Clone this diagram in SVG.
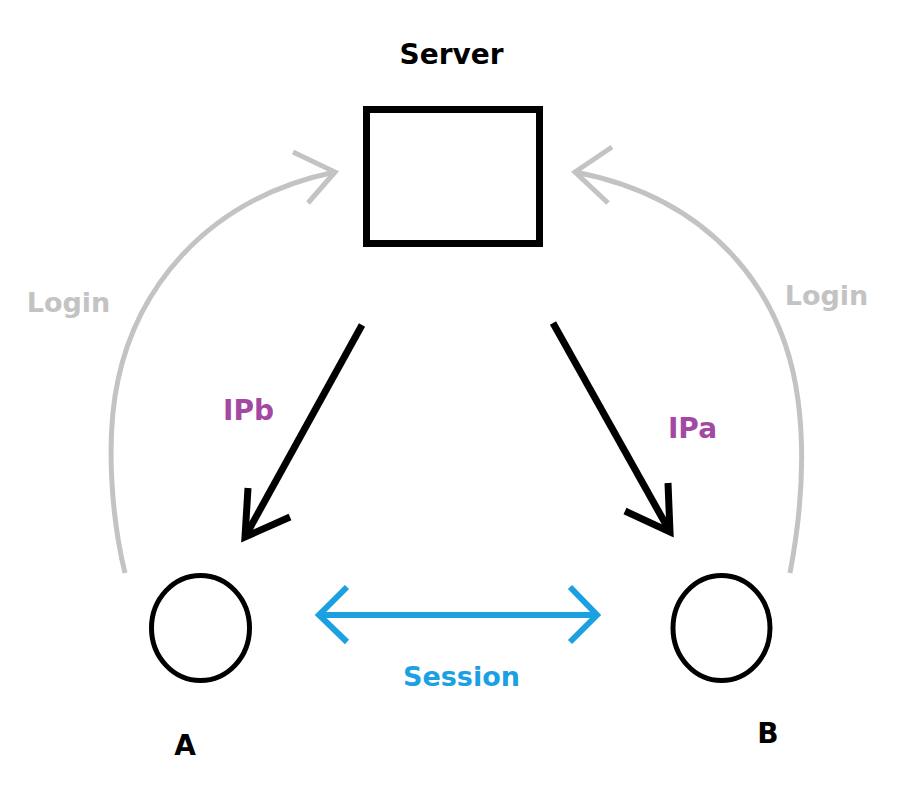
<svg xmlns="http://www.w3.org/2000/svg" width="902" height="808" viewBox="0 0 902 808">
  <style>
    .lbl { font-family: "DejaVu Sans", Verdana, sans-serif; font-weight: bold; text-anchor: middle; }
    .blk { fill: #000000; font-size: 28px; }
    .gry { fill: #c3c3c3; font-size: 27px; }
    .pur { fill: #a349a4; font-size: 28px; }
    .blu { fill: #1ba1e2; font-size: 27px; }
    .node { fill: #ffffff; stroke: #000000; }
    .login { fill: none; stroke: #c3c3c3; stroke-width: 5; stroke-linejoin: miter; }
    .ip { fill: none; stroke: #000000; stroke-width: 7; stroke-linejoin: miter; }
    .sess { fill: none; stroke: #1ba1e2; stroke-width: 6; stroke-linejoin: miter; }
  </style>
  <rect width="902" height="808" fill="#ffffff"/>

  <g id="connectors">
    <g id="login-a">
      <path class="login" d="M125,573 C112,520 105,440 118,380 C136,295 200,200 335,172"/>
      <polyline class="login" points="293,152 335,172 308,203"/>
      <text class="lbl gry" x="68.5" y="312">Login</text>
    </g>
    <g id="login-b">
      <path class="login" d="M790,573 C800,520 806,460 798,400 C785,300 720,200 575,172"/>
      <polyline class="login" points="612,147 575,172 608,203"/>
      <text class="lbl gry" x="826.5" y="305">Login</text>
    </g>
    <g id="ipb">
      <line class="ip" x1="362" y1="325" x2="246" y2="535"/>
      <polyline class="ip" points="248,488 245,537 290,517"/>
      <text class="lbl pur" x="248.5" y="420">IPb</text>
    </g>
    <g id="ipa">
      <line class="ip" x1="553" y1="323" x2="669" y2="530"/>
      <polyline class="ip" points="668,483 670,532 625,511"/>
      <text class="lbl pur" x="692.5" y="438">IPa</text>
    </g>
    <g id="session">
      <line class="sess" x1="320" y1="615" x2="596" y2="615"/>
      <polyline class="sess" points="347,587 319,615 347,642"/>
      <polyline class="sess" points="570,587 597,615 570,642"/>
      <text class="lbl blu" x="461.5" y="686">Session</text>
    </g>
  </g>

  <g id="server">
    <text class="lbl blk" x="451.5" y="64">Server</text>
    <rect class="node" x="366.5" y="109.5" width="173" height="134" stroke-width="7"/>
  </g>

  <g id="node-a">
    <ellipse class="node" cx="200.5" cy="628" rx="49" ry="52.5" stroke-width="5"/>
    <text class="lbl blk" x="185" y="755">A</text>
  </g>

  <g id="node-b">
    <ellipse class="node" cx="721.5" cy="628" rx="48.5" ry="52.5" stroke-width="5"/>
    <text class="lbl blk" x="768" y="743">B</text>
  </g>
</svg>
